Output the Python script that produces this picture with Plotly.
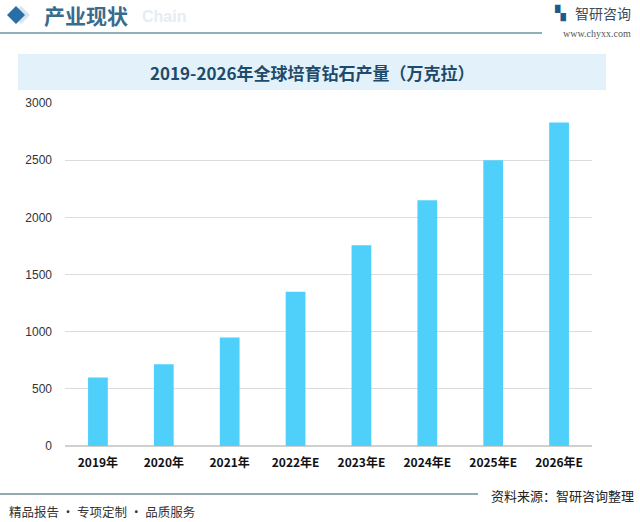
import plotly.graph_objects as go

categories = ["2019年", "2020年", "2021年", "2022年E", "2023年E", "2024年E", "2025年E", "2026年E"]
values = [600, 715, 950, 1350, 1755, 2150, 2500, 2830]
y_ticks = [0, 500, 1000, 1500, 2000, 2500, 3000]

title_text = "2019-2026年全球培育钻石产量（万克拉）"
header_text = "产业现状"
source_text = "资料来源：智研咨询整理"
footer_text = "精品报告 · 专项定制 · 品质服务"

W, H = 640, 522
L, R, T, B = 65, 48, 103, 76
PW, PH = W - L - R, H - T - B

def px(x):
    return (x - L) / PW
def py(y):
    return (H - B - y) / PH

fig = go.Figure(go.Bar(
    x=categories, y=values,
    marker=dict(color="#4fd0fb", line=dict(width=0)),
    hoverinfo="x+y",
))

shapes = [
    dict(type="rect", xref="paper", yref="paper", x0=px(18), x1=px(606), y0=py(90), y1=py(54),
         fillcolor="#e3f1fa", line=dict(width=0), layer="below"),
    dict(type="line", xref="paper", yref="paper", x0=px(0), x1=px(542), y0=py(33), y1=py(33),
         line=dict(color="#8fb0b8", width=2)),
    dict(type="line", xref="paper", yref="paper", x0=px(0), x1=px(478), y0=py(494), y1=py(494),
         line=dict(color="#6f8e98", width=1.5)),
    dict(type="path", xref="paper", yref="paper",
         path=f"M {px(12)} {py(15)} L {px(21)} {py(6)} L {px(30)} {py(15)} L {px(21)} {py(24)} Z",
         fillcolor="#d6e6f0", line=dict(width=0)),
    dict(type="path", xref="paper", yref="paper",
         path=f"M {px(7)} {py(15)} L {px(16)} {py(6)} L {px(25)} {py(15)} L {px(16)} {py(24)} Z",
         fillcolor="#2a6ea6", line=dict(width=0)),
]

annotations = [
    dict(text=title_text, xref="paper", yref="paper", x=px(312), y=py(72), xanchor="center", yanchor="middle",
         showarrow=False, font=dict(family="Noto Sans CJK SC", size=17, color="#1e4a6b", weight="bold")),
    dict(text="Chain", xref="paper", yref="paper", x=px(140), y=py(16), xanchor="left", yanchor="middle",
         showarrow=False, font=dict(family="Liberation Sans", size=16, color="#e6ecf2", weight="bold")),
    dict(text=header_text, xref="paper", yref="paper", x=px(42), y=py(15), xanchor="left", yanchor="middle",
         showarrow=False, font=dict(family="Noto Sans CJK SC", size=21, color="#3a6b8c", weight="bold")),
    dict(text="智研咨询", xref="paper", yref="paper", x=px(573), y=py(13), xanchor="left", yanchor="middle",
         showarrow=False, font=dict(family="Noto Sans CJK SC", size=14, color="#3a4a5a")),
    dict(text="▚", xref="paper", yref="paper", x=px(552), y=py(13), xanchor="left", yanchor="middle",
         showarrow=False, font=dict(family="DejaVu Sans", size=14, color="#1d5a8c")),
    dict(text="www.chyxx.com", xref="paper", yref="paper", x=px(633), y=py(33), xanchor="right", yanchor="middle",
         showarrow=False, font=dict(family="Liberation Serif", size=10, color="#555555")),
    dict(text=source_text, xref="paper", yref="paper", x=px(636), y=py(495), xanchor="right", yanchor="middle",
         showarrow=False, font=dict(family="Noto Sans CJK SC", size=13, color="#222222")),
    dict(text=footer_text, xref="paper", yref="paper", x=px(7), y=py(511), xanchor="left", yanchor="middle",
         showarrow=False, font=dict(family="Noto Sans CJK SC", size=12.5, color="#333333")),
]

fig.update_layout(
    width=W, height=H,
    margin=dict(l=L, r=R, t=T, b=B, pad=0, autoexpand=False),
    paper_bgcolor="white", plot_bgcolor="white",
    bargap=0.7,
    showlegend=False,
    shapes=shapes,
    annotations=annotations,
    xaxis=dict(
        type="category", showgrid=False, showline=False, zeroline=False, ticks="",
        tickfont=dict(family="Noto Sans CJK SC", size=12, color="#111111", weight="bold"),
        ticklabelstandoff=8, automargin=False,
    ),
    yaxis=dict(
        range=[0, 3000], tickvals=y_ticks, showgrid=True, gridcolor="#dcdcdc", gridwidth=1,
        zeroline=True, zerolinecolor="#d0d0d0", showline=False, ticks="",
        tickfont=dict(family="Liberation Sans", size=12, color="#333333"),
        ticklabelstandoff=12, automargin=False,
    ),
)

fig.write_html("out.html", config={"displayModeBar": False},
               post_script="document.body.style.margin='0';document.body.style.padding='0';")
